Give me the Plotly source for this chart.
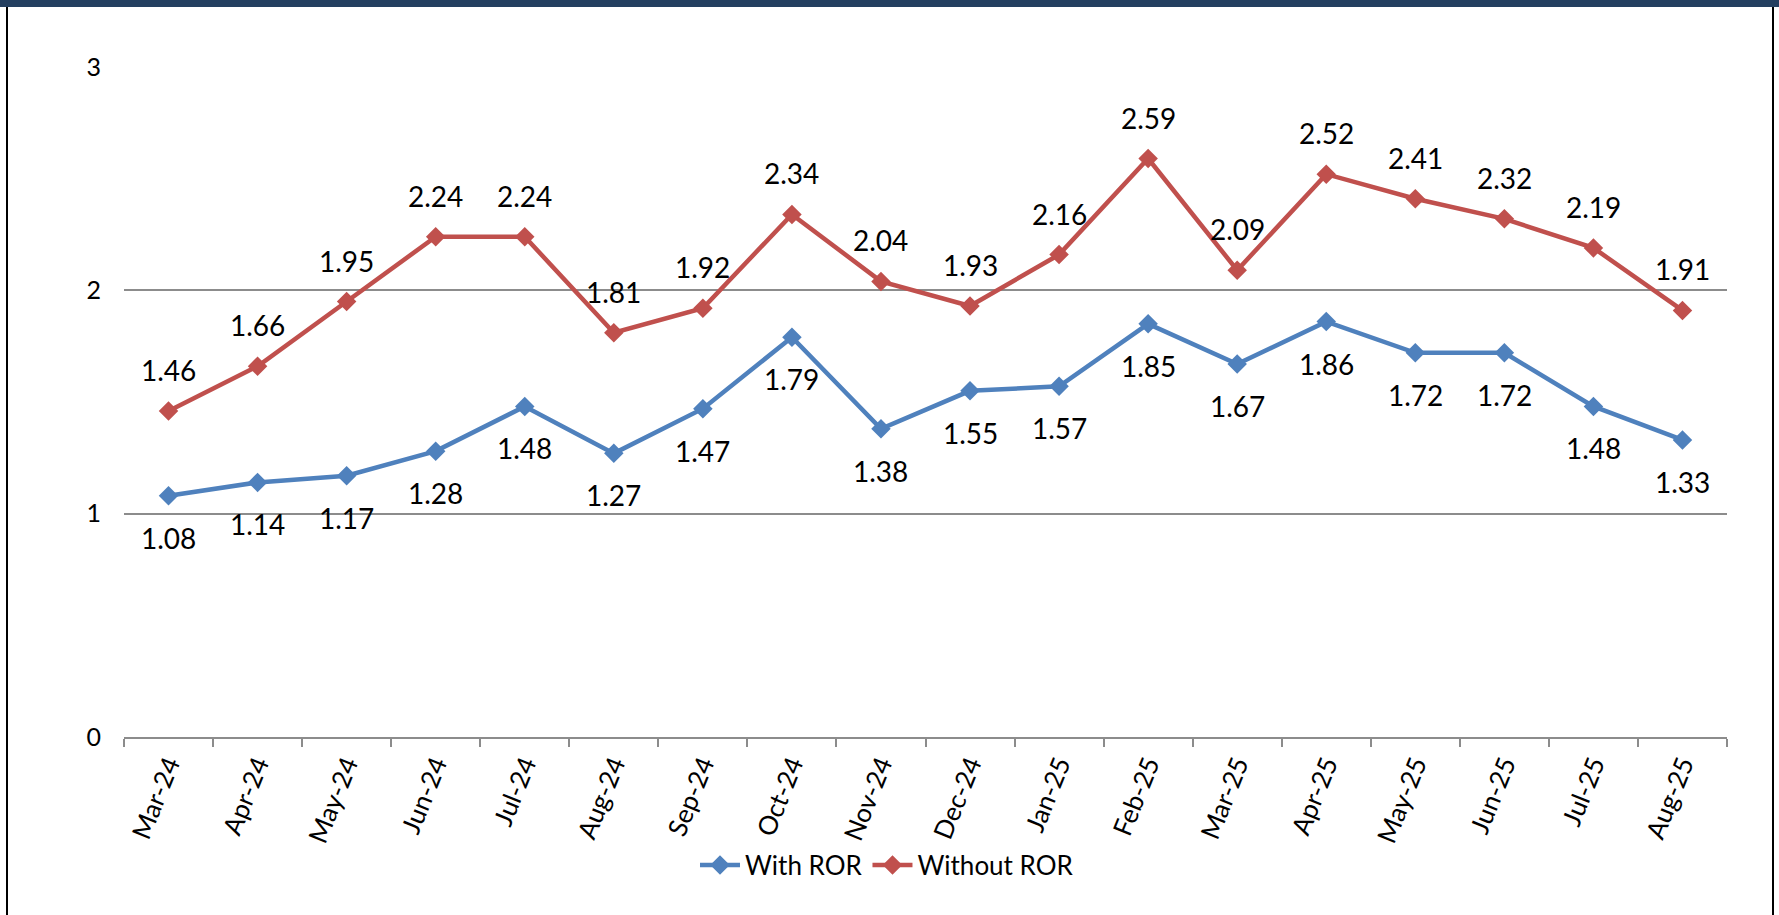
import plotly.graph_objects as go

months = ["Mar-24", "Apr-24", "May-24", "Jun-24", "Jul-24", "Aug-24", "Sep-24", "Oct-24", "Nov-24",
          "Dec-24", "Jan-25", "Feb-25", "Mar-25", "Apr-25", "May-25", "Jun-25", "Jul-25", "Aug-25"]
with_ror = [1.08, 1.14, 1.17, 1.28, 1.48, 1.27, 1.47, 1.79, 1.38,
            1.55, 1.57, 1.85, 1.67, 1.86, 1.72, 1.72, 1.48, 1.33]
without_ror = [1.46, 1.66, 1.95, 2.24, 2.24, 1.81, 1.92, 2.34, 2.04,
               1.93, 2.16, 2.59, 2.09, 2.52, 2.41, 2.32, 2.19, 1.91]
y_ticks = [0, 1, 2, 3]

W, H = 1779, 915
L, R, T, B = 124, 52, 67, 178
PW, PH = W - L - R, H - T - B


def px_x(px):
    return (px - L) / PW


def px_y(py):
    return (H - B - py) / PH


FONT = "Lato, 'Open Sans', sans-serif"
BLUE = "#4F81BD"
RED = "#C0504D"

fig = go.Figure()
fig.add_trace(go.Scatter(x=months, y=with_ror, name="With ROR", mode="lines+markers",
                         line=dict(color=BLUE, width=4.5),
                         marker=dict(symbol="diamond", size=15, color=BLUE)))
fig.add_trace(go.Scatter(x=months, y=without_ror, name="Without ROR", mode="lines+markers",
                         line=dict(color=RED, width=4.5),
                         marker=dict(symbol="diamond", size=15, color=RED)))

annotations = []
for m, v in zip(months, with_ror):
    annotations.append(dict(x=m, y=v, text=f"{v:.2f}", showarrow=False, yshift=-42,
                            xanchor="center", yanchor="middle",
                            font=dict(family=FONT, size=28, color="black")))
for m, v in zip(months, without_ror):
    annotations.append(dict(x=m, y=v, text=f"{v:.2f}", showarrow=False, yshift=41,
                            xanchor="center", yanchor="middle",
                            font=dict(family=FONT, size=28, color="black")))

shapes = [
    # top navy bar
    dict(type="rect", xref="paper", yref="paper", x0=px_x(0), x1=px_x(W), y0=px_y(7), y1=px_y(0),
         fillcolor="#243F60", line=dict(width=0), layer="above"),
    # left border
    dict(type="line", xref="paper", yref="paper", x0=px_x(7), x1=px_x(7), y0=px_y(7), y1=px_y(H),
         line=dict(color="black", width=2)),
    # right border
    dict(type="line", xref="paper", yref="paper", x0=px_x(1773), x1=px_x(1773), y0=px_y(7), y1=px_y(H),
         line=dict(color="black", width=2)),
]

fig.update_layout(
    width=W, height=H,
    margin=dict(l=L, r=R, t=T, b=B, pad=0),
    paper_bgcolor="white", plot_bgcolor="white",
    font=dict(family=FONT, color="black"),
    showlegend=True,
    legend=dict(orientation="h", x=px_x(887), xanchor="center", y=px_y(865), yanchor="middle",
                font=dict(family=FONT, size=26, color="black"), bgcolor="rgba(0,0,0,0)",
                itemwidth=40, tracegroupgap=0),
    annotations=annotations,
    shapes=shapes,
    xaxis=dict(type="category", range=[-0.5, len(months) - 0.5], showgrid=False,
               showline=True, linecolor="#8C8C8C", linewidth=2,
               ticks="outside", ticklen=8, tickwidth=2, tickcolor="#8C8C8C", tickson="boundaries",
               tickangle=-68, tickfont=dict(family=FONT, size=26, color="black"),
               zeroline=False),
    yaxis=dict(range=[0, 3], tickvals=y_ticks, ticktext=[str(t) for t in y_ticks],
               showgrid=True, gridcolor="#8C8C8C", gridwidth=2,
               showline=False, zeroline=False, ticks="", ticklabelstandoff=22,
               tickfont=dict(family=FONT, size=25, color="black")),
)

fig.write_html("out.html", config={"displayModeBar": False},
               post_script="document.body.style.margin='0';")
